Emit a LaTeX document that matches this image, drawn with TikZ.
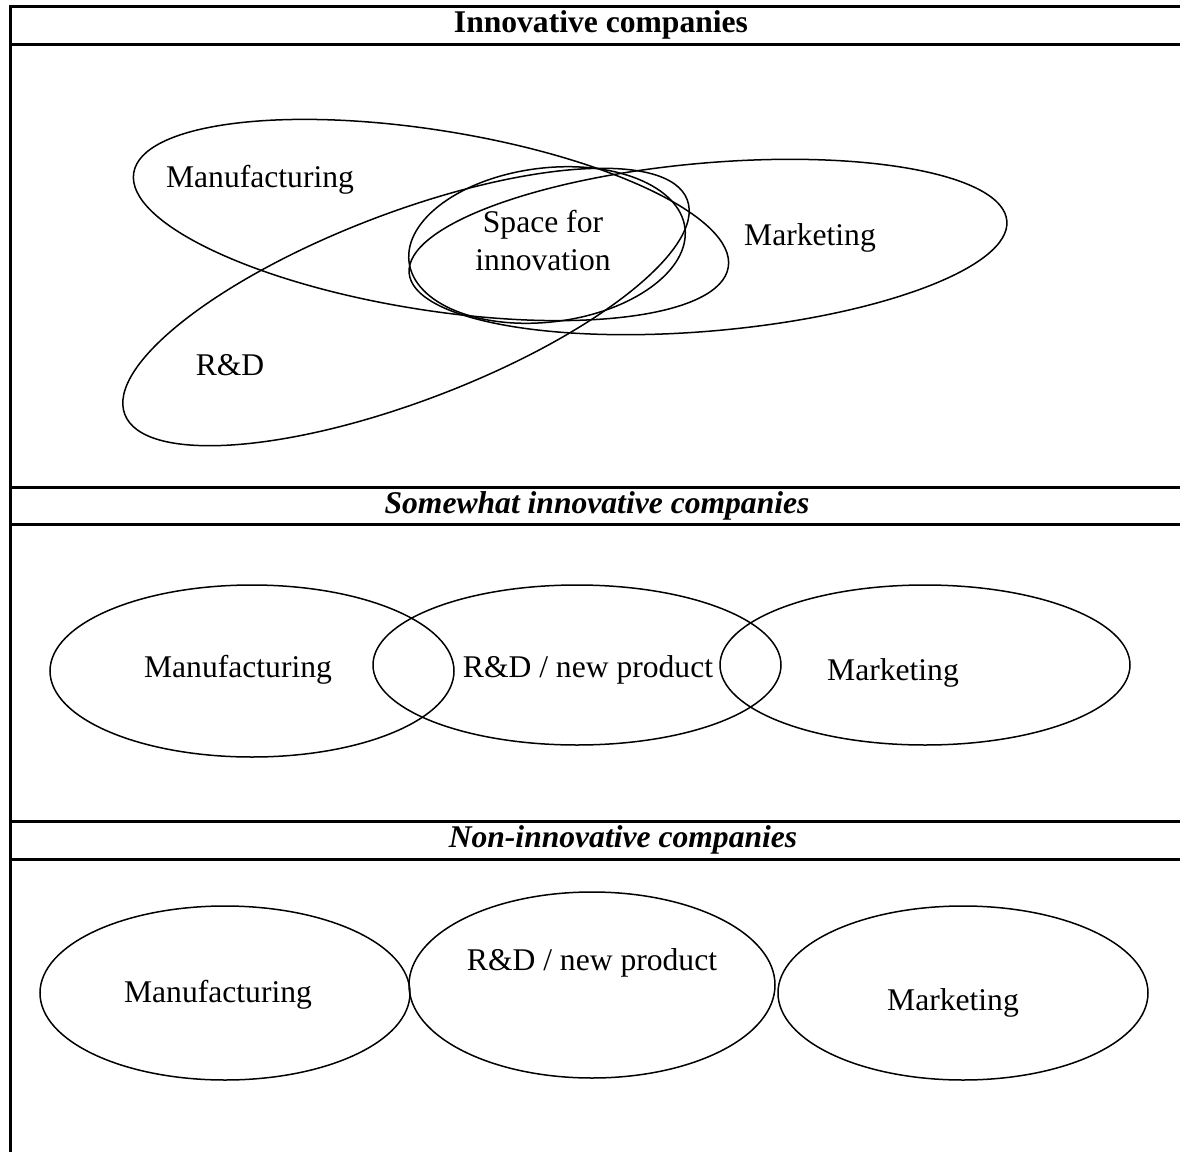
\documentclass[tikz,border=0pt]{standalone}
\usepackage{fontspec}
\setmainfont{Liberation Serif}
\begin{document}
\begin{tikzpicture}
    [x=0.5pt, y=-0.5pt,
    every node/.style={font=\fontsize{15.8}{19}\selectfont, inner sep=0pt},
    rule/.style={line width=1.5pt},
    blob/.style={line width=0.75pt},
    head/.style={font=\fontsize{15.8}{19}\selectfont\bfseries},
    headit/.style={font=\fontsize{15.8}{19}\selectfont\bfseries\itshape}]
    \useasboundingbox (0,0) rectangle (1180,1152);
    % table
    \draw[rule] (1180,6) -- (10,6) -- (10,1152);
    \foreach \y in {44,487,524,821,859}
      \draw[rule] (10,\y) -- (1180,\y);
    \node[head] (inno) at (601,25) {Innovative companies};
    \node[headit] (some) at (597,506) {Somewhat innovative companies};
    \node[headit] (non) at (623,840) {Non-innovative companies};
    % innovative
    \draw[blob, rotate around={-9:(431,220)}] (431,220) ellipse [x radius=301, y radius=90];
    \draw[blob, rotate around={20.9:(406,307)}] (406,307) ellipse [x radius=301, y radius=94];
    \draw[blob, rotate around={5:(708,247)}] (708,247) ellipse [x radius=300, y radius=84];
    \draw[blob, rotate around={7:(547,245)}] (547,245) ellipse [x radius=139, y radius=77];
    \node (manuA) at (260,180) {Manufacturing};
    \node[align=center] (space) at (543,241) {Space for\\innovation};
    \node (markA) at (810,238) {Marketing};
    \node (rdA) at (230,365) {R\&D};
    % somewhat innovative
    \draw[blob] (252,671) ellipse [x radius=202, y radius=86];
    \draw[blob] (577,665) ellipse [x radius=204, y radius=80];
    \draw[blob] (925,665) ellipse [x radius=205, y radius=80];
    \node (manuB) at (238,670) {Manufacturing};
    \node (rdB) at (588,670) {R\&D / new product};
    \node (markB) at (893,673) {Marketing};
    % non-innovative
    \draw[blob] (225,993) ellipse [x radius=185, y radius=87];
    \draw[blob] (592,985) ellipse [x radius=183, y radius=93];
    \draw[blob] (963,993) ellipse [x radius=185, y radius=87];
    \node (manuC) at (218,995) {Manufacturing};
    \node (rdC) at (592,963) {R\&D / new product};
    \node (markC) at (953,1003) {Marketing};
\end{tikzpicture}
\end{document}
